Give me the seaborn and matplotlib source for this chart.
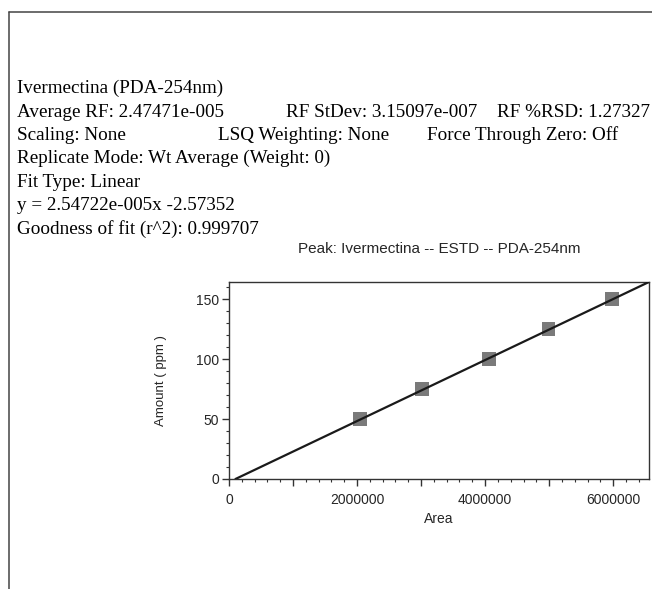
import numpy as np
import pandas as pd
import matplotlib
matplotlib.use("Agg")
import matplotlib.pyplot as plt
from matplotlib.ticker import MultipleLocator
import seaborn as sns

# --- Datos de calibración ---
areas = [2050000, 3010000, 4060000, 4990000, 5980000]
cantidades = [50, 75, 100, 125, 150]
pendiente = 2.54722e-005
intercepto = -2.57352

# --- Textos del encabezado ---
lineas_info = [
    ["Ivermectina (PDA-254nm)"],
    ["Average RF: 2.47471e-005", "RF StDev: 3.15097e-007", "RF %RSD: 1.27327"],
    ["Scaling: None", "LSQ Weighting: None", "Force Through Zero: Off"],
    ["Replicate Mode: Wt Average (Weight: 0)"],
    ["Fit Type: Linear"],
    ["y = 2.54722e-005x -2.57352"],
    ["Goodness of fit (r^2): 0.999707"],
]
titulo = "Peak: Ivermectina -- ESTD -- PDA-254nm"
etiquetas_x = ["0", "", "2000000", "", "4000000", "", "6000000"]

df = pd.DataFrame({"Area": areas, "Amount": cantidades})

sns.set_style("ticks")
plt.rcParams["font.family"] = ["Liberation Sans", "DejaVu Sans"]

W, H = 652, 589
fig = plt.figure(figsize=(W / 100, H / 100), dpi=100)

# marco exterior (borde superior e izquierdo)
fig.add_artist(plt.Line2D([9 / W, 1.0], [1 - 12 / H, 1 - 12 / H], color="#444444", lw=1.1))
fig.add_artist(plt.Line2D([9 / W, 9 / W], [1 - 12 / H, 0.0], color="#444444", lw=1.1))

# bloque de texto (posiciones de columnas en px)
col_x = {
    1: [17, 286, 497],
    2: [17, 218, 427],
}
y_base = [93, 117, 140, 163, 187, 210, 234]
for i, partes in enumerate(lineas_info):
    xs = col_x.get(i, [17])
    for j, t in enumerate(partes):
        fig.text(xs[j] / W, 1 - y_base[i] / H, t, family="Liberation Serif",
                 fontsize=13.8, va="baseline", ha="left", color="black")

# ejes
ax = fig.add_axes([229 / W, 1 - 479 / H, 420 / W, 197 / H])
sns.scatterplot(data=df, x="Area", y="Amount", marker="s", s=100, color="#7a7a7a",
                edgecolor="none", ax=ax, zorder=2)
ax.axline((0, intercepto), slope=pendiente, color="#1a1a1a", lw=1.6, zorder=3)

fig.text(439 / W, 1 - 253 / H, titulo, fontsize=11, ha="center", va="baseline")

ax.set_xlim(0, 6.56e6)
ax.set_ylim(0, 164.5)
ax.xaxis.set_minor_locator(MultipleLocator(2e5))
ax.yaxis.set_major_locator(MultipleLocator(50))
ax.yaxis.set_minor_locator(MultipleLocator(10))
ax.set_xticks(np.arange(0, 6.5e6, 1e6))
ax.set_xticklabels(etiquetas_x)
ax.tick_params(axis="both", which="major", length=5, width=1, labelsize=10, color="#333333")
ax.tick_params(axis="x", which="major", pad=5)
ax.tick_params(axis="y", which="major", pad=2)
ax.tick_params(axis="both", which="minor", length=2.5, width=0.8, color="#333333")
for s in ax.spines.values():
    s.set_visible(True)
    s.set_color("#333333")
    s.set_linewidth(1)

ax.set_xlabel("Area", fontsize=10, labelpad=4)
ax.set_ylabel("Amount ( ppm )", fontsize=9.5, labelpad=21)

fig.savefig("out.png", dpi=100)
